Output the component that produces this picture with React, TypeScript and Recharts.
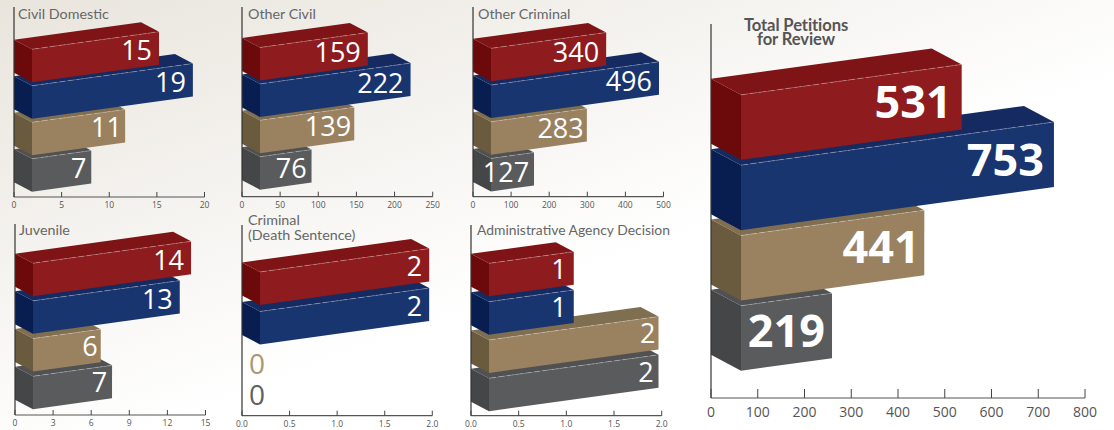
import { BarChart, Bar, XAxis, YAxis } from 'recharts'

const categories = ['Red', 'Blue', 'Tan', 'Gray']

const civilDomestic = [15, 19, 11, 7]
const otherCivil = [159, 222, 139, 76]
const otherCriminal = [340, 496, 283, 127]
const juvenile = [14, 13, 6, 7]
const deathSentence = [2, 2, 0, 0]
const agencyDecision = [1, 1, 2, 2]
const totalPetitions = [531, 753, 441, 219]

const civilDomesticTicks = [0, 5, 10, 15, 20]
const otherCivilTicks = [0, 50, 100, 150, 200, 250]
const otherCriminalTicks = [0, 100, 200, 300, 400, 500]
const juvenileTicks = [0, 3, 6, 9, 12, 15]
const fractionTicks = [0, 0.5, 1, 1.5, 2]
const totalTicks = [0, 100, 200, 300, 400, 500, 600, 700, 800]

const FRONT = { Red: '#8e1b1e', Blue: '#19356f', Tan: '#9a8260', Gray: '#5a5b5d' }
const TOP = { Red: '#7e1416', Blue: '#162a62', Tan: '#7f6e50', Gray: '#505153' }
const SIDE = { Red: '#6c0a0b', Blue: '#081e50', Tan: '#6a5a3e', Gray: '#454648' }
const ZERO_TEXT = { Tan: '#ad9570', Gray: '#5f6062' }
const LABEL_PAD = { Red: 1, Blue: 1, Tan: 0.45, Gray: 0.7 }

// bars are foreshortened against the axis in the original's fake perspective
const FORESHORTEN = 0.889
const SLOPE = 0.138
const FONT = "'Open Sans', sans-serif"

const smallGeom = { depthX: 18, depthY: 9.5, barH: 33, labelSize: 27, labelWeight: 400, labelPad: 7, tickLen: 5, tickSize: 8.5, tickDrop: 7.7 }
const bigGeom = { depthX: 30, depthY: 16, barH: 65, labelSize: 45, labelWeight: 700, labelPad: 10, tickLen: 9, tickSize: 14, tickDrop: 13.7 }

const toRows = (values: number[]) =>
  categories.map((name, i) => ({ name, value: values[i] })).reverse()

function Panel({ values, ticks, x0, xEnd, top, baseline, first, step, geom, zeroLift }: any) {
  const padL = 14
  const padR = 18
  const axisH = 26
  const rows = toRows(values)
  const padTop = first - step / 2 - top
  const padBottom = baseline - (first + 3.5 * step)

  const renderBar = (p: any) => {
    const { x, y, width, payload } = p
    const h = geom.barH
    const name = payload.name
    const value = payload.value
    if (!value) {
      return (
        <text x={x + 7} y={y + h / 2 + (zeroLift?.[name] ?? 0)} fontSize={28} fontFamily={FONT} fill={ZERO_TEXT[name]} dominantBaseline='central'>
          0
        </text>
      )
    }
    const len = width * FORESHORTEN
    const rise = len * SLOPE
    const fl = x + geom.depthX
    const fr = fl + len
    const by = y - geom.depthY
    const labelW = String(value).length * geom.labelSize * 0.57
    const labelX = fr - geom.labelPad * LABEL_PAD[name]
    const labelY = y - (labelX - labelW / 2 - fl) * SLOPE + h / 2 - geom.labelSize * 0.06
    return (
      <g>
        <polygon points={`${x},${by} ${x + len},${by - rise} ${fr},${y - rise} ${fl},${y}`} fill={TOP[name]} />
        <polygon points={`${x},${by} ${fl},${y} ${fl},${y + h} ${x},${by + h}`} fill={SIDE[name]} />
        <polygon points={`${fl},${y} ${fr},${y - rise} ${fr},${y - rise + h} ${fl},${y + h}`} fill={FRONT[name]} />
        <line x1={fl} y1={y} x2={fr} y2={y - rise} stroke='#fff' strokeOpacity={0.35} strokeWidth={0.8} strokeDasharray='7 2' />
        <text x={labelX} y={labelY} textAnchor='end' dominantBaseline='central' fontFamily={FONT} fontSize={geom.labelSize} fontWeight={geom.labelWeight} fill='#fff'>
          {value}
        </text>
      </g>
    )
  }

  const renderTick = (p: any) => {
    const { x, y, payload } = p
    return (
      <g>
        <line x1={x} y1={y} x2={x} y2={y - geom.tickLen} stroke='#444' strokeWidth={1} />
        <text x={x} y={y + geom.tickDrop} textAnchor='middle' dominantBaseline='central' fontFamily={FONT} fontSize={geom.tickSize} fill='#555'>
          {ticks === fractionTicks ? payload.value.toFixed(1) : payload.value}
        </text>
      </g>
    )
  }

  return (
    <div style={{ position: 'absolute', left: x0 - padL, top }}>
      <BarChart
        layout='vertical'
        width={xEnd - x0 + padL + padR}
        height={baseline - top + axisH}
        data={rows}
        margin={{ top: 0, right: padR, bottom: 0, left: padL - 1 }}
      >
        <XAxis
          type='number'
          domain={[0, ticks[ticks.length - 1]]}
          ticks={ticks}
          interval={0}
          height={axisH}
          tickSize={0}
          tickMargin={0}
          tick={renderTick}
          tickLine={false}
          axisLine={{ stroke: '#555', strokeWidth: 1.2 }}
        />
        <YAxis
          type='category'
          dataKey='name'
          reversed
          width={1}
          tick={false}
          tickLine={false}
          padding={{ top: padTop, bottom: padBottom }}
          axisLine={{ stroke: '#333', strokeWidth: 1.2 }}
        />
        <Bar dataKey='value' barSize={geom.barH} shape={renderBar} isAnimationActive={false} />
      </BarChart>
    </div>
  )
}

const titleStyle = {
  position: 'absolute',
  fontFamily: 'Lato, sans-serif',
  fontSize: 14.3,
  lineHeight: '15px',
  color: '#666',
  whiteSpace: 'nowrap',
} as const

export default function App() {
  return (
    <div
      style={{
        position: 'absolute',
        left: 0,
        top: 0,
        width: 1114,
        height: 430,
        overflow: 'hidden',
        background: 'linear-gradient(160deg, #e9e5dd 0%, #f4f2ee 30%, #ffffff 58%)',
      }}
    >
      <Panel values={civilDomestic} ticks={civilDomesticTicks} x0={13.5} xEnd={204} top={7} baseline={197} first={65.5} step={36.5} geom={smallGeom} />
      <Panel values={otherCivil} ticks={otherCivilTicks} x0={242.3} xEnd={433} top={7} baseline={196.7} first={63.7} step={36.4} geom={smallGeom} />
      <Panel values={otherCriminal} ticks={otherCriminalTicks} x0={472.5} xEnd={663} top={7} baseline={196.7} first={64.7} step={36.7} geom={smallGeom} />
      <Panel values={juvenile} ticks={juvenileTicks} x0={14.5} xEnd={205} top={224} baseline={415} first={280} step={37.7} geom={smallGeom} />
      <Panel values={deathSentence} ticks={fractionTicks} x0={241.7} xEnd={432} top={225} baseline={415.7} first={288.7} step={39.5} geom={smallGeom} zeroLift={{ Tan: -4.7, Gray: -13 }} />
      <Panel values={agencyDecision} ticks={fractionTicks} x0={471} xEnd={661.7} top={225} baseline={415.7} first={279.5} step={38.3} geom={smallGeom} />
      <Panel values={totalPetitions} ticks={totalTicks} x0={710.7} xEnd={1084.7} top={24} baseline={398} first={127} step={70.3} geom={bigGeom} />

      <div style={{ ...titleStyle, left: 18, top: 6 }}>Civil Domestic</div>
      <div style={{ ...titleStyle, left: 248, top: 6 }}>Other Civil</div>
      <div style={{ ...titleStyle, left: 478, top: 6 }}>Other Criminal</div>
      <div style={{ ...titleStyle, left: 19, top: 222 }}>Juvenile</div>
      <div style={{ ...titleStyle, left: 248, top: 212 }}>
        Criminal
        <br />
        (Death Sentence)
      </div>
      <div style={{ ...titleStyle, left: 477, top: 222, fontSize: 13.9 }}>Administrative Agency Decision</div>
      <div style={{ ...titleStyle, left: 696, width: 200, top: 18, textAlign: 'center', fontWeight: 700, fontSize: 16.6, lineHeight: '14px', letterSpacing: -0.1, color: '#555' }}>
        Total Petitions
        <br />
        for Review
      </div>
    </div>
  )
}
